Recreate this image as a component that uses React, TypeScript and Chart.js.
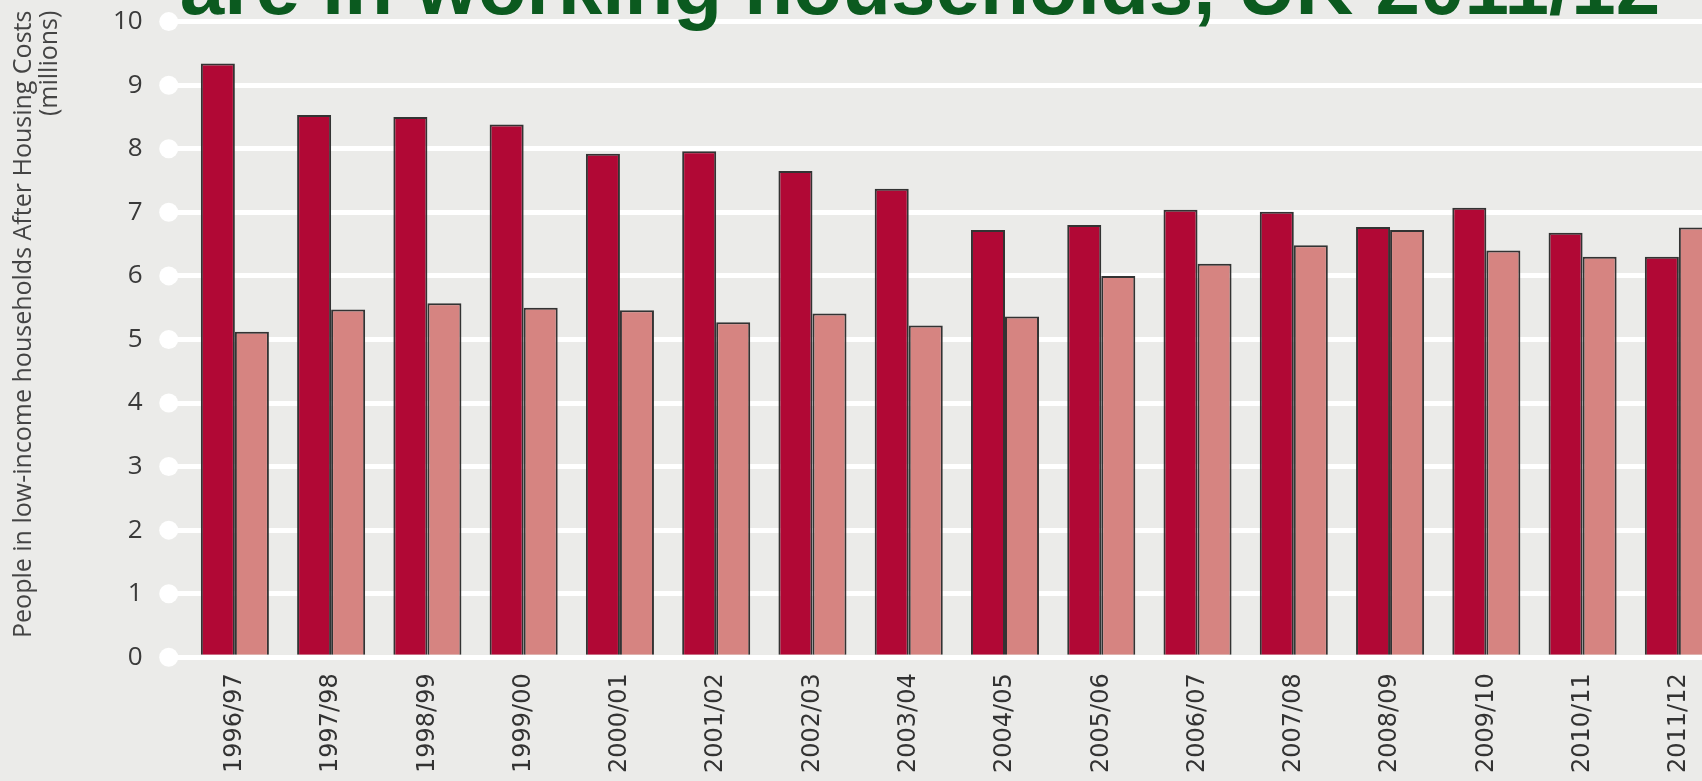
import React, { useEffect, useRef } from 'react';
import { Chart, registerables } from 'chart.js';

Chart.register(...registerables);

const categories = [
  '1996/97', '1997/98', '1998/99', '1999/00', '2000/01', '2001/02', '2002/03', '2003/04',
  '2004/05', '2005/06', '2006/07', '2007/08', '2008/09', '2009/10', '2010/11', '2011/12',
];

const worklessValues = [
  9.34, 8.53, 8.5, 8.38, 7.92, 7.96, 7.65, 7.37,
  6.72, 6.8, 7.04, 7.01, 6.77, 7.07, 6.68, 6.3,
];

const workingValues = [
  5.12, 5.47, 5.57, 5.5, 5.46, 5.27, 5.41, 5.22,
  5.36, 6.0, 6.19, 6.48, 6.72, 6.4, 6.3, 6.76,
];

const titleText = 'are in working households, UK 2011/12';
const yAxisTitle = ['People in low-income households After Housing Costs', '(millions)'];

const BG = '#EBEBE9';
const DARK = '#B10835';
const LIGHT = '#D68481';

const tickDotsPlugin = {
  id: 'tickDots',
  beforeDatasetsDraw(chart: any) {
    const yScale = chart.scales.y;
    const ctx = chart.ctx;
    const x = chart.chartArea.left - 18;
    ctx.save();
    ctx.fillStyle = '#ffffff';
    yScale.ticks.forEach((t: any) => {
      const py = yScale.getPixelForValue(t.value);
      ctx.beginPath();
      ctx.arc(x, py, 9.5, 0, Math.PI * 2);
      ctx.fill();
    });
    ctx.restore();
  },
};

const axisTitlePlugin = {
  id: 'yAxisTitle',
  afterDraw(chart: any) {
    const ctx = chart.ctx;
    ctx.save();
    ctx.translate(0, chart.chartArea.top - 11);
    ctx.rotate(-Math.PI / 2);
    ctx.font = '25px "Open Sans", sans-serif';
    ctx.fillStyle = '#444444';
    ctx.textAlign = 'right';
    ctx.textBaseline = 'alphabetic';
    yAxisTitle.forEach((line, i) => {
      ctx.fillText(line, 0, 31 + i * 26);
    });
    ctx.restore();
  },
};

const bigTitlePlugin = {
  id: 'bigTitle',
  afterDraw(chart: any) {
    const ctx = chart.ctx;
    ctx.save();
    ctx.font = 'bold 80px "Liberation Sans", Arial, sans-serif';
    ctx.fillStyle = '#0B5A1F';
    ctx.textAlign = 'center';
    ctx.textBaseline = 'alphabetic';
    ctx.fillText(titleText, chart.width / 2, chart.chartArea.top - 8);
    ctx.restore();
  },
};

export default function App() {
  const canvasRef = useRef<HTMLCanvasElement | null>(null);

  useEffect(() => {
    document.body.style.margin = '0';
    document.body.style.background = BG;
    const canvas = canvasRef.current;
    if (!canvas) return;
    const chart = new Chart(canvas, {
      type: 'bar',
      data: {
        labels: categories,
        datasets: [
          {
            label: 'Workless households',
            data: worklessValues,
            backgroundColor: DARK,
            borderColor: '#333333',
            borderWidth: 2,
            barPercentage: 1,
            categoryPercentage: 0.707,
          },
          {
            label: 'Working households',
            data: workingValues,
            backgroundColor: LIGHT,
            borderColor: '#333333',
            borderWidth: 2,
            barPercentage: 1,
            categoryPercentage: 0.707,
          },
        ],
      },
      options: {
        responsive: false,
        animation: false,
        devicePixelRatio: 1,
        layout: { padding: { top: 0, right: 113, bottom: 3, left: 87 } },
        plugins: {
          legend: { display: false },
          title: { display: false },
          tooltip: { enabled: false },
        },
        scales: {
          x: {
            grid: { display: false, drawTicks: false },
            border: { display: false },
            ticks: {
              autoSkip: false,
              minRotation: 90,
              maxRotation: 90,
              padding: 16,
              color: '#333333',
              font: { family: '"DejaVu Sans", sans-serif', size: 24 },
            },
          },
          y: {
            min: 0,
            max: 10,
            border: { display: false },
            grid: {
              color: '#ffffff',
              lineWidth: 5,
              drawTicks: true,
              tickLength: 18,
              tickColor: '#ffffff',
              tickWidth: 5,
            },
            ticks: {
              stepSize: 1,
              padding: 26,
              color: '#3A3A3A',
              font: { family: '"Open Sans", sans-serif', size: 26 },
            },
            title: { display: false },
          },
        },
      },
      plugins: [tickDotsPlugin, axisTitlePlugin, bigTitlePlugin],
    } as any);
    return () => chart.destroy();
  }, []);

  return (
    <div
      style={{
        position: 'fixed',
        left: 0,
        top: 0,
        width: 1702,
        height: 781,
        overflow: 'hidden',
        background: BG,
      }}
    >
      <canvas
        ref={canvasRef}
        width={1840}
        height={812}
        style={{ position: 'absolute', left: 0, top: -20, width: 1840, height: 812, background: BG }}
      />
    </div>
  );
}
